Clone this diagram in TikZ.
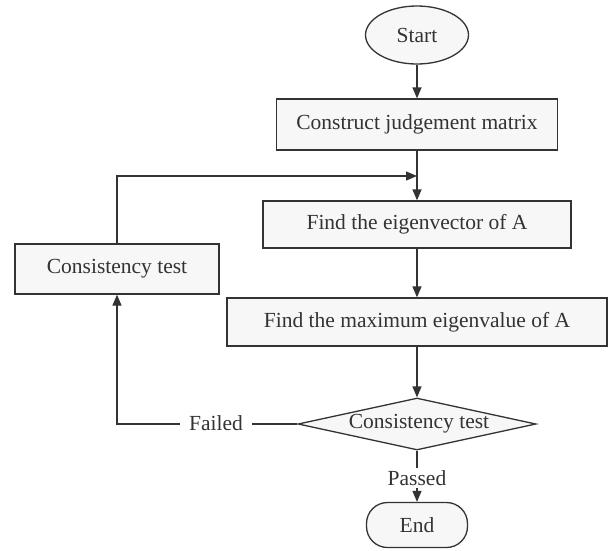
\documentclass[tikz,border=0pt]{standalone}
\usepackage{fontspec}
\setmainfont{Liberation Serif}
\usetikzlibrary{shapes.geometric,arrows.meta}
\definecolor{ln}{HTML}{333333}
\definecolor{bx}{HTML}{F7F7F7}
\begin{document}
\begin{tikzpicture}[x=1pt,y=-1pt,
  every node/.style={font=\fontsize{21.5}{24}\selectfont, text=ln},
  box/.style={draw=ln, line width=1.3pt, fill=bx, rectangle, inner sep=0pt},
  conn/.style={draw=ln, line width=1.3pt, -{Triangle[length=11pt,width=9pt]}},
  lbl/.style={fill=white, inner sep=4pt}]
\useasboundingbox (0,0) rectangle (608,550);
\node[box, ellipse, minimum width=103pt, minimum height=58pt] (start) at (417,35) {Start};
\node[box, minimum width=281pt, minimum height=51pt] (construct) at (417,124.5) {Construct judgement matrix};
\node[box, minimum width=308pt, minimum height=47pt] (eig) at (417,224.5) {Find the eigenvector of A};
\node[box, minimum width=204pt, minimum height=50pt] (cons) at (117,269) {Consistency test};
\node[box, minimum width=380pt, minimum height=48pt] (max) at (417,322) {Find the maximum eigenvalue of A};
\node[box, diamond, minimum width=238pt, minimum height=52pt] (dia) at (417,424) {};
\node (diat) at (419,424) {Consistency test};
\node[box, rounded corners=21pt, minimum width=101pt, minimum height=45pt] (end) at (417,525) {End};
\coordinate (loopend) at (417,176);
\coordinate (failcorner) at (117,424);
\draw[conn] (start) -- (construct);
\draw[conn] (construct.south) -- (eig.north);
\draw[conn] (cons.north) |- (loopend);
\draw[conn] (eig.south) -- (max.north);
\draw[conn] (max.south) -- (dia.north);
\draw[conn] (dia.west) -- (failcorner) -- (cons.south);
\node[lbl, inner xsep=9pt] (failed) at (216,423) {Failed};
\draw[conn] (dia.south) -- (end.north);
\node[lbl, inner sep=2pt] (passed) at (417,478) {Passed};
\end{tikzpicture}
\end{document}
